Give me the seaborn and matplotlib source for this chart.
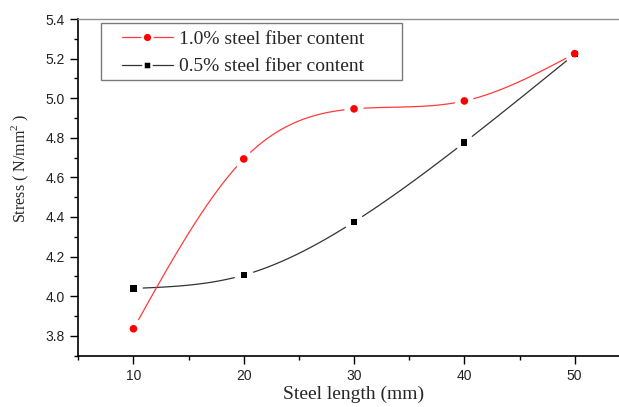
import numpy as np
import pandas as pd
import matplotlib
matplotlib.use("Agg")
import matplotlib.pyplot as plt
from matplotlib.lines import Line2D
from matplotlib.patches import Rectangle
from matplotlib.ticker import MultipleLocator
import seaborn as sns

# ---- data ----
steel_length = [10, 20, 30, 40, 50]
stress_10 = [3.835, 4.693, 4.946, 4.986, 5.225]   # 1.0% steel fiber content
stress_05 = [4.039, 4.106, 4.375, 4.776, 5.222]   # 0.5% steel fiber content
series_names = ["1.0% steel fiber content", "0.5% steel fiber content"]

sns.set_theme(style="white")
plt.rcParams["font.family"] = ["Liberation Sans", "DejaVu Sans"]
plt.rcParams["mathtext.fontset"] = "custom"
plt.rcParams["mathtext.rm"] = "Liberation Serif"

W, H = 619, 407
fig = plt.figure(figsize=(W / 100, H / 100), dpi=100)
L, R, T, B = 78.3, 629.8, 19.0, 355.5
ax = fig.add_axes([L / W, (H - B) / H, (R - L) / W, (B - T) / H])
ax.set_xlim(5, 55)
ax.set_ylim(3.7, 5.4)


def natural_spline(x, y, xs):
    x = np.asarray(x, float)
    y = np.asarray(y, float)
    n = len(x)
    h = np.diff(x)
    A = np.zeros((n, n))
    rhs = np.zeros(n)
    A[0, 0] = 1
    A[-1, -1] = 1
    for i in range(1, n - 1):
        A[i, i - 1] = h[i - 1]
        A[i, i] = 2 * (h[i - 1] + h[i])
        A[i, i + 1] = h[i]
        rhs[i] = 6 * ((y[i + 1] - y[i]) / h[i] - (y[i] - y[i - 1]) / h[i - 1])
    M = np.linalg.solve(A, rhs)
    idx = np.clip(np.searchsorted(x, xs) - 1, 0, n - 2)
    x0, x1 = x[idx], x[idx + 1]
    hh = x1 - x0
    a = (x1 - xs) / hh
    b = (xs - x0) / hh
    return (a * y[idx] + b * y[idx + 1]
            + ((a ** 3 - a) * M[idx] + (b ** 3 - b) * M[idx + 1]) * hh ** 2 / 6)


def curve_frame(x, y, gap_px=9.5):
    xs = np.linspace(min(x), max(x), 600)
    ys = natural_spline(x, y, xs)
    pts = ax.transData.transform(np.column_stack([xs, ys]))
    mk = ax.transData.transform(np.column_stack([x, y]))
    d = np.min(np.hypot(pts[:, None, 0] - mk[None, :, 0],
                        pts[:, None, 1] - mk[None, :, 1]), axis=1)
    keep = d > gap_px
    seg = np.cumsum(np.concatenate([[0], np.diff(keep.astype(int)) != 0]))
    df = pd.DataFrame({"x": xs, "y": ys, "seg": seg})
    return df[keep]


red_line = "#ff3b3b"
black_line = "#333333"

for vals, lc in [(stress_05, black_line), (stress_10, red_line)]:
    cf = curve_frame(steel_length, vals)
    sns.lineplot(data=cf, x="x", y="y", units="seg", estimator=None, sort=False,
                 color=lc, linewidth=0.9, ax=ax)

pts = pd.DataFrame({"x": steel_length * 2,
                    "y": stress_05 + stress_10,
                    "s": [series_names[1]] * 5 + [series_names[0]] * 5})
sns.scatterplot(data=pts[pts.s == series_names[1]], x="x", y="y", marker="s",
                color="black", s=20, edgecolor="none", ax=ax, legend=False, zorder=3)
sns.scatterplot(data=pts[pts.s == series_names[0]], x="x", y="y", marker="o",
                color="#ff0000", s=30, edgecolor="none", ax=ax, legend=False, zorder=4)

# ---- axes style ----
ax.xaxis.set_major_locator(MultipleLocator(10))
ax.xaxis.set_minor_locator(MultipleLocator(5))
ax.yaxis.set_major_locator(MultipleLocator(0.2))
ax.yaxis.set_minor_locator(MultipleLocator(0.1))
ax.tick_params(axis="both", which="major", direction="out", length=5.5, width=1,
               color="black", labelsize=10, pad=4, bottom=True, left=True,
               labelcolor="#222222")
ax.tick_params(axis="both", which="minor", direction="out", length=3, width=1,
               color="black", bottom=True, left=True)
ax.set_xticks([10, 20, 30, 40, 50])
ax.set_yticks([3.8, 4.0, 4.2, 4.4, 4.6, 4.8, 5.0, 5.2, 5.4])
ax.set_yticklabels([f"{v:.1f}" for v in [3.8, 4.0, 4.2, 4.4, 4.6, 4.8, 5.0, 5.2, 5.4]])
for side in ["left", "bottom"]:
    ax.spines[side].set_color("black")
    ax.spines[side].set_linewidth(1.2)
ax.spines["top"].set_color("#909090")
ax.spines["top"].set_linewidth(1.0)
ax.spines["right"].set_visible(False)
ax.grid(False)

ax.set_xlabel("Steel length (mm)", fontsize=14, family="Liberation Serif", labelpad=2)
ax.set_ylabel(r"Stress ( N/mm$^2$ )", fontsize=11.5, family="Liberation Serif")
ax.yaxis.set_label_coords(-0.085, 0.557)

# ---- legend ----
handles = [
    Line2D([], [], color=red_line, linewidth=0.9, marker="o", markersize=7.0,
           markerfacecolor="#ff0000", markeredgecolor="white", markeredgewidth=1.8),
    Line2D([], [], color=black_line, linewidth=0.9, marker="s", markersize=6.2,
           markerfacecolor="black", markeredgecolor="white", markeredgewidth=1.8),
]
leg = ax.legend(handles, series_names, loc="upper left",
                bbox_to_anchor=((122 - L) / (R - L), (B - 30.5) / (B - T)),
                borderaxespad=0, borderpad=0, frameon=False,
                prop={"family": "Liberation Serif", "size": 14},
                handlelength=2.6, handletextpad=0.35, labelspacing=0.5)
ax.add_patch(Rectangle(((101 - L) / (R - L), (B - 80) / (B - T)),
                       (402 - 101) / (R - L), (80 - 23) / (B - T),
                       transform=ax.transAxes, fill=False, edgecolor="#7a7a7a",
                       linewidth=1.0, zorder=5))

fig.savefig("out.png", dpi=100)
